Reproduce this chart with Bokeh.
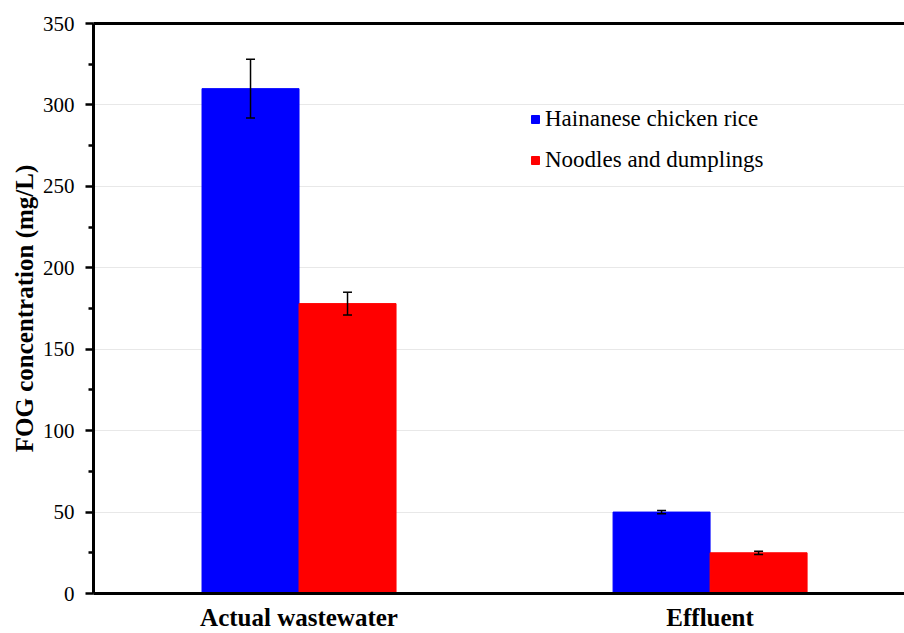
from bokeh.plotting import figure
from bokeh.models import (Range1d, FixedTicker, LinearAxis, ColumnDataSource, Whisker,
                          TeeHead, Legend, LegendItem)
from bokeh.embed import file_html
from bokeh.resources import INLINE

categories = ["Actual wastewater", "Effluent"]
series_names = ["Hainanese chicken rice", "Noodles and dumplings"]
hainanese = [310, 50]
hainanese_err = [18, 1]
noodles = [178, 25]
noodles_err = [7, 1]
y_ticks = [0, 50, 100, 150, 200, 250, 300, 350]
colors = ["#0000ff", "#ff0000"]

FONT = "Liberation Serif"
BAR_W = 0.236

p = figure(width=904, height=633, output_backend="svg", toolbar_location=None,
           x_range=Range1d(-0.5, 1.473), y_range=Range1d(0, 350),
           min_border_left=93, min_border_right=0, min_border_top=23,
           min_border_bottom=40)
p.outline_line_color = None
p.background_fill_color = "white"

xs = list(range(len(categories)))
renderers = []
for k, (vals, errs) in enumerate([(hainanese, hainanese_err), (noodles, noodles_err)]):
    off = (-0.5 + k) * BAR_W
    xk = [x + off for x in xs]
    src = ColumnDataSource(dict(x=xk, top=vals,
                                lo=[v - e for v, e in zip(vals, errs)],
                                hi=[v + e for v, e in zip(vals, errs)]))
    r = p.vbar(x="x", top="top", bottom=0, width=BAR_W, source=src,
               fill_color=colors[k], line_color=colors[k])
    renderers.append(r)
    w = Whisker(base="x", lower="lo", upper="hi", source=src, line_color="black",
                line_width=1.5, level="overlay",
                upper_head=TeeHead(size=9, line_color="black", line_width=1.5),
                lower_head=TeeHead(size=9, line_color="black", line_width=1.5))
    p.add_layout(w)

# x axis
p.xaxis.ticker = FixedTicker(ticks=xs)
p.xaxis.major_label_overrides = {i: c for i, c in enumerate(categories)}
p.xaxis.major_tick_line_color = None
p.xaxis.minor_tick_line_color = None
p.xaxis.axis_line_width = 3
p.xaxis.axis_line_color = "black"
p.xaxis.major_label_text_font = FONT
p.xaxis.major_label_text_font_style = "bold"
p.xaxis.major_label_text_font_size = "25px"
p.xaxis.major_label_text_color = "black"
p.xaxis.major_label_standoff = 4
p.xgrid.grid_line_color = None

# y axis
p.yaxis.ticker = FixedTicker(ticks=y_ticks, minor_ticks=[v + 25 for v in y_ticks[:-1]])
p.yaxis.axis_line_width = 3
p.yaxis.axis_line_color = "black"
p.yaxis.major_tick_out = 8
p.yaxis.major_tick_in = 0
p.yaxis.major_tick_line_width = 2.5
p.yaxis.minor_tick_out = 5
p.yaxis.minor_tick_in = 0
p.yaxis.minor_tick_line_width = 2.5
p.yaxis.major_label_text_font = FONT
p.yaxis.major_label_text_font_size = "21px"
p.yaxis.major_label_text_color = "black"
p.yaxis.major_label_standoff = 11
p.yaxis.axis_label = "FOG concentration (mg/L)"
p.yaxis.axis_label_text_font = FONT
p.yaxis.axis_label_text_font_style = "bold"
p.yaxis.axis_label_text_font_size = "25px"
p.yaxis.axis_label_text_color = "black"
p.yaxis.axis_label_standoff = 2
p.ygrid.grid_line_color = "#e8e8e8"
p.ygrid.grid_line_width = 1

# top border line
top = LinearAxis(ticker=FixedTicker(ticks=[]), axis_line_width=3, axis_line_color="black",
                 major_tick_line_color=None, minor_tick_line_color=None,
                 major_label_text_font_size="0px")
p.add_layout(top, "above")

legend = Legend(items=[LegendItem(label=series_names[i], renderers=[renderers[i]])
                       for i in range(2)],
                location=(437, 420), orientation="vertical")
legend.glyph_width = 10
legend.glyph_height = 10
legend.label_height = 20
legend.spacing = 15
legend.padding = 0
legend.margin = 0
legend.label_standoff = 5
legend.label_text_font = FONT
legend.label_text_font_size = "23px"
legend.label_text_color = "black"
legend.border_line_color = None
legend.background_fill_alpha = 0
p.add_layout(legend, "center")

open("out.html", "w").write(file_html(p, INLINE))
